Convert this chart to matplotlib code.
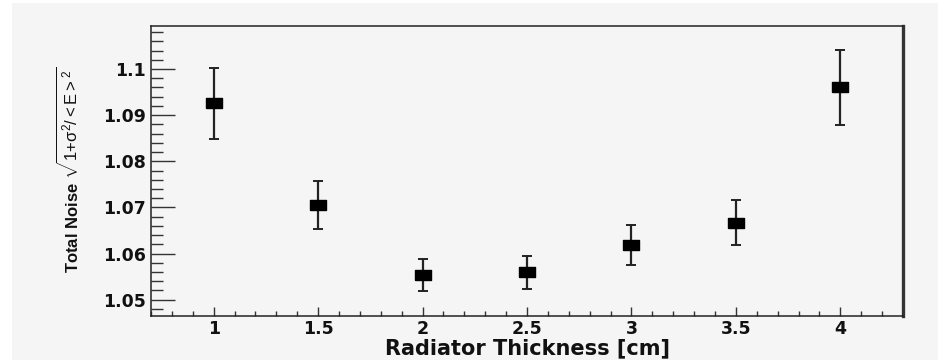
import matplotlib
matplotlib.use("Agg")
import matplotlib.pyplot as plt
from matplotlib import font_manager
from matplotlib.ticker import MultipleLocator
from matplotlib.patches import Rectangle

# Measured noise versus radiator thickness
thickness = [1.0, 1.5, 2.0, 2.5, 3.0, 3.5, 4.0]
noise = [1.0926, 1.0706, 1.0554, 1.0559, 1.0618, 1.0667, 1.0960]
noise_err = [0.0077, 0.0052, 0.0035, 0.0036, 0.0043, 0.0048, 0.0082]

x_ticks = [1, 1.5, 2, 2.5, 3, 3.5, 4]
x_tick_labels = ["1", "1.5", "2", "2.5", "3", "3.5", "4"]
y_ticks = [1.05, 1.06, 1.07, 1.08, 1.09, 1.1]
y_tick_labels = ["1.05", "1.06", "1.07", "1.08", "1.09", "1.1"]


def pick_font(candidates):
    for name in candidates:
        try:
            font_manager.findfont(name, fallback_to_default=False)
            return name
        except Exception:
            continue
    return "DejaVu Sans"


narrow = pick_font(["Liberation Sans Narrow", "Liberation Sans", "DejaVu Sans"])
bold_font = "DejaVu Sans"

bg = "#f5f5f5"
fig = plt.figure(figsize=(9.38, 3.6), dpi=100, facecolor="white")
fig.patches.append(Rectangle((12 / 938, 0), 1 - 12 / 938, 1 - 3 / 360,
                             transform=fig.transFigure, facecolor=bg,
                             edgecolor="none", zorder=-10))

ax = fig.add_axes([151 / 938, 44 / 360, 752 / 938, 290 / 360])
ax.set_facecolor(bg)
ax.set_xlim(0.7, 4.3)
ax.set_ylim(1.04646, 1.10933)

# Rectangular filled markers with capped error bars
rect_marker = [(-1.6, -1.0), (1.6, -1.0), (1.6, 1.0), (-1.6, 1.0), (-1.6, -1.0)]
ax.errorbar(thickness, noise, yerr=noise_err, fmt="none", ecolor="#222222",
            elinewidth=1.6, capsize=3.6, capthick=1.4, zorder=2)
ax.plot(thickness, noise, linestyle="none", marker=rect_marker,
        markersize=11, color="black", zorder=3)

ax.set_xticks(x_ticks)
ax.set_xticklabels(x_tick_labels)
ax.xaxis.set_minor_locator(MultipleLocator(0.1))
ax.set_yticks(y_ticks)
ax.set_yticklabels(y_tick_labels)
ax.yaxis.set_minor_locator(MultipleLocator(0.002))

ax.tick_params(axis="x", which="major", direction="in", length=6.5, width=1.0,
               color="#333333", top=False, pad=3)
ax.tick_params(axis="x", which="minor", direction="in", length=3.5, width=1.0,
               color="#333333", top=False)
ax.tick_params(axis="y", which="major", direction="in", length=17, width=1.0,
               color="#333333", right=False, pad=4)
ax.tick_params(axis="y", which="minor", direction="in", length=8.5, width=1.0,
               color="#333333", right=False)

for lbl in ax.get_xticklabels() + ax.get_yticklabels():
    lbl.set_fontfamily(bold_font)
    lbl.set_fontweight("bold")
    lbl.set_fontsize(12.5)
    lbl.set_color("#111111")

for side in ("top", "left", "bottom"):
    ax.spines[side].set_linewidth(1.1)
    ax.spines[side].set_color("#222222")
ax.spines["right"].set_linewidth(2.4)
ax.spines["right"].set_color("#333333")

ax.set_xlabel("Radiator Thickness [cm]", fontfamily=bold_font,
              fontweight="bold", fontsize=15, color="#111111", labelpad=0)

plt.rcParams["mathtext.fontset"] = "custom"
plt.rcParams["mathtext.rm"] = narrow
plt.rcParams["mathtext.it"] = narrow
fig.text(68 / 938, 1 - 170 / 360,
         r"Total Noise $\sqrt{1\mathrm{+}\sigma^{2}\mathrm{/}{<}\mathrm{E}{>}^{2}}$",
         rotation=90, ha="center", va="center", fontfamily=narrow,
         fontsize=12, fontweight="semibold", color="#111111")

fig.savefig("out.png", dpi=100, facecolor=fig.get_facecolor())
